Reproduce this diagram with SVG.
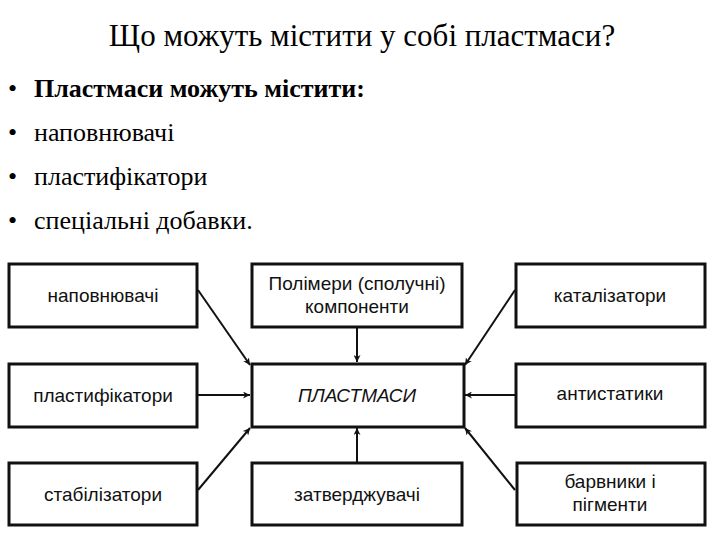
<svg xmlns="http://www.w3.org/2000/svg" width="720" height="540" viewBox="0 0 720 540">
<style>
.t{font-family:"Liberation Serif",serif;fill:#000}
.b rect{fill:#fff;stroke:#111;stroke-width:3}
.b text{font-family:"Liberation Sans Narrow","Liberation Sans",sans-serif;font-size:19px;text-anchor:middle;fill:#111}
.c line{stroke:#111;stroke-width:2;marker-end:url(#a)}
</style>
<defs><marker id="a" viewBox="0 0 10 10" refX="10" refY="5" markerWidth="7" markerHeight="7" orient="auto" markerUnits="userSpaceOnUse"><path d="M0,0L10,5L0,10L3,5z" fill="#111"/></marker></defs>
<rect width="720" height="540" fill="#fff"/>
<text class="t" x="362" y="46" font-size="31" text-anchor="middle">Що можуть містити у собі пластмаси?</text>
<g class="t" font-size="26">
<text x="8" y="97">•</text><text x="34" y="97" font-weight="bold">Пластмаси можуть містити:</text>
<text x="8" y="141">•</text><text x="34" y="141">наповнювачі</text>
<text x="8" y="185">•</text><text x="34" y="185">пластифікатори</text>
<text x="8" y="229">•</text><text x="34" y="229">спеціальні добавки.</text>
</g>
<g class="c">
<line x1="198" y1="290" x2="250" y2="365"/>
<line x1="198" y1="395" x2="250" y2="395"/>
<line x1="198" y1="490" x2="250" y2="428"/>
<line x1="357" y1="327" x2="357" y2="362"/>
<line x1="357" y1="462" x2="357" y2="428"/>
<line x1="515" y1="290" x2="465" y2="365"/>
<line x1="515" y1="395" x2="465" y2="395"/>
<line x1="515" y1="490" x2="465" y2="428"/>
</g>
<g class="b">
<g id="n1"><rect x="9" y="264" width="188" height="63"/><text x="103" y="302">наповнювачі</text></g>
<g id="n2"><rect x="9" y="364" width="188" height="63"/><text x="103" y="402">пластифікатори</text></g>
<g id="n3"><rect x="9" y="463" width="188" height="62"/><text x="103" y="501">стабілізатори</text></g>
<g id="n4"><rect x="252" y="264" width="210" height="63"/><text x="357" y="290">Полімери (сполучні)</text><text x="357" y="313">компоненти</text></g>
<g id="n5"><rect x="252" y="364" width="212" height="63"/><text x="357" y="402" font-family="Liberation Serif,serif" font-style="italic" fill="#444">ПЛАСТМАСИ</text></g>
<g id="n6"><rect x="252" y="463" width="210" height="62"/><text x="357" y="501">затверджувачі</text></g>
<g id="n7"><rect x="516" y="264" width="189" height="63"/><text x="610" y="302">каталізатори</text></g>
<g id="n8"><rect x="516" y="364" width="189" height="63"/><text x="610" y="400">антистатики</text></g>
<g id="n9"><rect x="517" y="463" width="188" height="62"/><text x="610" y="488">барвники і</text><text x="610" y="511">пігменти</text></g>
</g>
</svg>
